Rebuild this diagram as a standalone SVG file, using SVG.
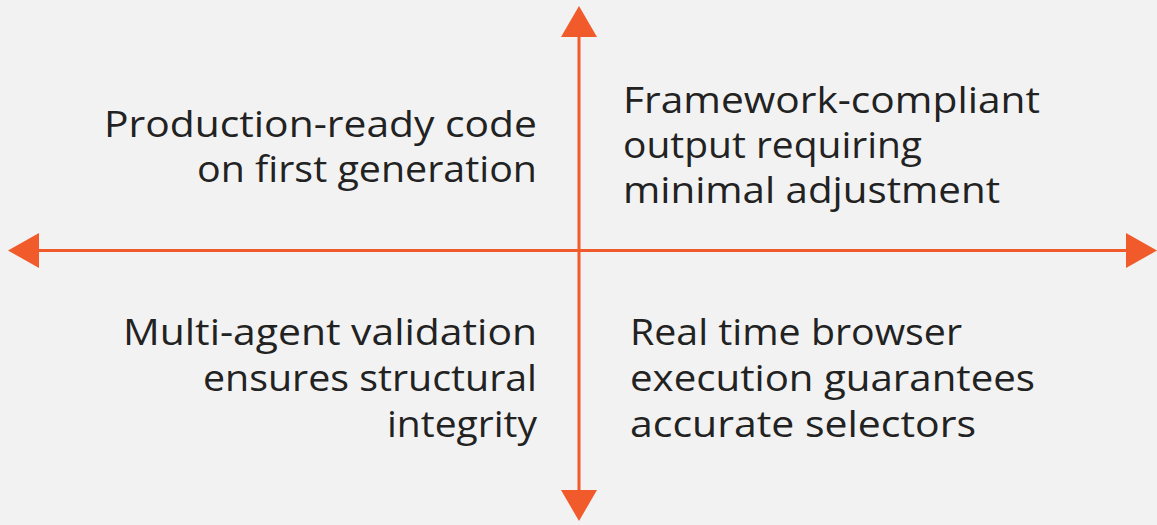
<svg xmlns="http://www.w3.org/2000/svg" width="1157" height="525" viewBox="0 0 1157 525">
  <style>
    .lbl { font-family: "Open Sans", "Liberation Sans", sans-serif; font-size: 36px; fill: #222222; }
    .axis { stroke: #F15A2A; stroke-width: 3; fill: none; }
    .head { fill: #F15A2A; }
  </style>
  <rect x="0" y="0" width="1157" height="525" fill="#F2F2F2"/>
  <g id="connectors">
    <line class="axis" x1="579" y1="35" x2="579" y2="491"/>
    <line class="axis" x1="38" y1="250.5" x2="1128" y2="250.5"/>
    <polygon class="head" points="579,6 561,37 597,37"/>
    <polygon class="head" points="579,521 561,490 597,490"/>
    <polygon class="head" points="8,250.5 39,233 39,268"/>
    <polygon class="head" points="1157,250.5 1126,233 1126,268"/>
  </g>
  <g id="node-top-left">
    <text class="lbl" x="104" y="137" textLength="433" lengthAdjust="spacingAndGlyphs">Production-ready code</text>
    <text class="lbl" x="197" y="182" textLength="340" lengthAdjust="spacingAndGlyphs">on first generation</text>
  </g>
  <g id="node-top-right">
    <text class="lbl" x="623" y="112.5" textLength="417" lengthAdjust="spacingAndGlyphs">Framework-compliant</text>
    <text class="lbl" x="623" y="158" textLength="299" lengthAdjust="spacingAndGlyphs">output requiring</text>
    <text class="lbl" x="623" y="203" textLength="377" lengthAdjust="spacingAndGlyphs">minimal adjustment</text>
  </g>
  <g id="node-bottom-left">
    <text class="lbl" x="123" y="345" textLength="414" lengthAdjust="spacingAndGlyphs">Multi-agent validation</text>
    <text class="lbl" x="203" y="391" textLength="334" lengthAdjust="spacingAndGlyphs">ensures structural</text>
    <text class="lbl" x="387" y="437" textLength="150" lengthAdjust="spacingAndGlyphs">integrity</text>
  </g>
  <g id="node-bottom-right">
    <text class="lbl" x="630" y="345" textLength="332" lengthAdjust="spacingAndGlyphs">Real time browser</text>
    <text class="lbl" x="630" y="391" textLength="405" lengthAdjust="spacingAndGlyphs">execution guarantees</text>
    <text class="lbl" x="630" y="437" textLength="346" lengthAdjust="spacingAndGlyphs">accurate selectors</text>
  </g>
</svg>
